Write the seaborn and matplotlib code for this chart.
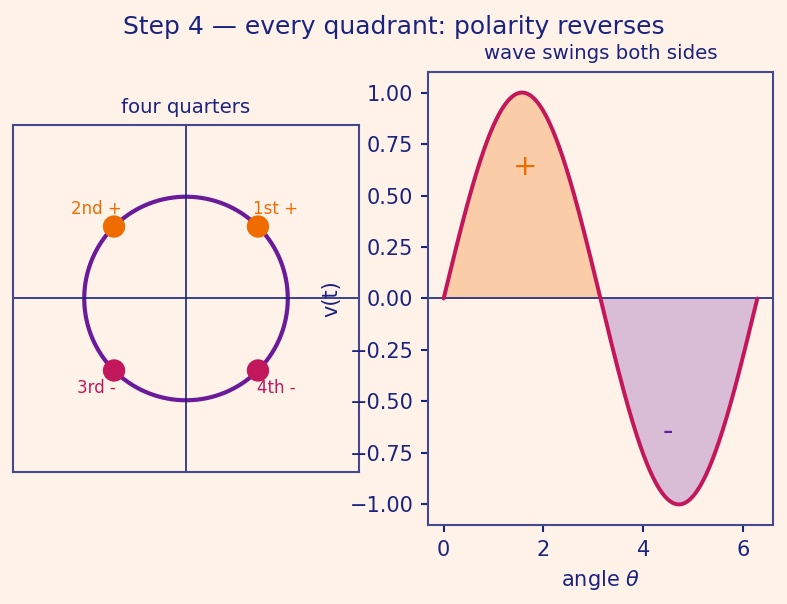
import numpy as np
import pandas as pd
import matplotlib
matplotlib.use("Agg")
import matplotlib.pyplot as plt
import seaborn as sns

# quadrant points on the unit circle
quad_angles_deg = [45, 135, 225, 315]
quad_labels = ["1st +", "2nd +", "3rd -", "4th -"]
quad_signs = ["+", "+", "-", "-"]

# sign marks on the wave
sign_text = ["+", "-"]
sign_x = [1.64, 4.5]
sign_y = [0.64, -0.65]

BG = "#fff3e9"
NAVY = "#1a237e"
SPINE = "#45488c"
PURPLE = "#6a1b9a"
ORANGE = "#ef6c00"
CRIMSON = "#c2185b"

sns.set_theme(style="white", context="paper", rc={
    "figure.facecolor": BG,
    "axes.facecolor": BG,
    "axes.edgecolor": SPINE,
    "axes.linewidth": 1.0,
    "text.color": NAVY,
    "axes.labelcolor": NAVY,
    "xtick.color": NAVY,
    "ytick.color": NAVY,
    "xtick.labelsize": 10,
    "ytick.labelsize": 10,
    "axes.labelsize": 10,
    "axes.titlesize": 9.5,
    "xtick.bottom": True,
    "ytick.left": True,
    "xtick.major.size": 3.5,
    "ytick.major.size": 3.5,
})
plt.rcParams["font.family"] = ["DejaVu Sans"]

fig = plt.figure(figsize=(787 / 150, 604 / 150), dpi=150)
ax1 = fig.add_axes([0.0165, 0.1308, 0.4397, 0.75])
ax2 = fig.add_axes([0.5438, 0.1308, 0.4384, 0.75])

# ---- left: circle with quadrant points
t = np.linspace(0, 2 * np.pi, 400)
circle = pd.DataFrame({"x": np.cos(t), "y": np.sin(t)})
sns.lineplot(data=circle, x="x", y="y", sort=False, estimator=None, errorbar=None,
             ax=ax1, color=PURPLE, lw=2.0)
ax1.axhline(0, color=NAVY, lw=0.8)
ax1.axvline(0, color=NAVY, lw=0.8)

rad = np.deg2rad(quad_angles_deg)
pts = pd.DataFrame({"x": np.cos(rad), "y": np.sin(rad), "sign": quad_signs})
sns.scatterplot(data=pts, x="x", y="y", hue="sign", palette={"+": ORANGE, "-": CRIMSON},
                s=115, edgecolor="none", legend=False, ax=ax1, zorder=5)
for a, lab, sg in zip(rad, quad_labels, quad_signs):
    ax1.text(1.25 * np.cos(a), 1.25 * np.sin(a), lab, ha="center", va="center",
             fontsize=8, color=ORANGE if sg == "+" else CRIMSON)

ax1.set_xlim(-1.7, 1.7)
ax1.set_ylim(-1.7, 1.7)
ax1.set_aspect("equal", adjustable="box", anchor="C")
ax1.set_xticks([])
ax1.set_yticks([])
ax1.set_xlabel("")
ax1.set_ylabel("")
ax1.set_title("four quarters")

# ---- right: sine wave with signed areas
theta = np.linspace(0, 2 * np.pi, 400)
v = np.sin(theta)
wave = pd.DataFrame({"theta": theta, "v": v})
ax2.fill_between(theta, v, 0, where=v >= 0, color=ORANGE, alpha=0.28, lw=0)
ax2.fill_between(theta, v, 0, where=v <= 0, color=PURPLE, alpha=0.25, lw=0)
sns.lineplot(data=wave, x="theta", y="v", estimator=None, errorbar=None,
             ax=ax2, color=CRIMSON, lw=1.9, zorder=4)
ax2.axhline(0, color=NAVY, lw=0.8)
for s, x, y in zip(sign_text, sign_x, sign_y):
    ax2.text(x, y, s, ha="center", va="center", fontsize=14,
             color=ORANGE if s == "+" else PURPLE)
ax2.set_title("wave swings both sides")
ax2.set_xlabel(r"angle $\theta$")
ax2.set_ylabel("v(t)")

fig.suptitle("Step 4 — every quadrant: polarity reverses", fontsize=12, color=NAVY, y=0.975)

fig.savefig("out.png", dpi=150, facecolor=BG)
